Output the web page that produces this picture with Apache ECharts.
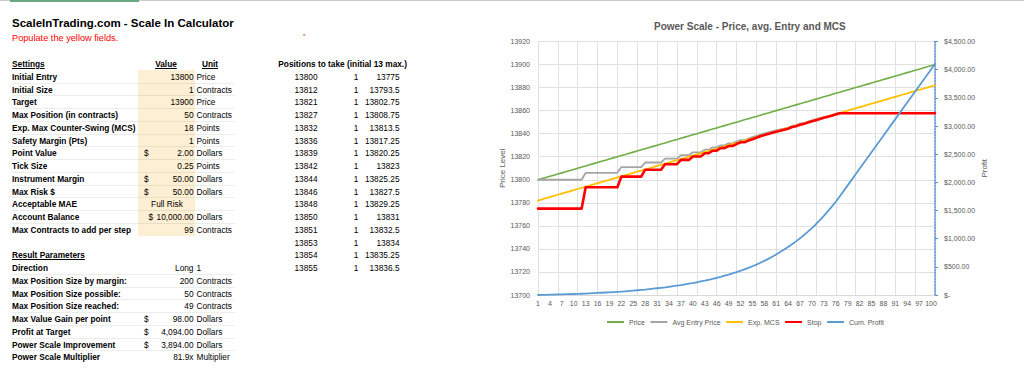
<!DOCTYPE html>
<html>
<head>
<meta charset="utf-8">
<script src="https://cdn.jsdelivr.net/npm/echarts@6/dist/echarts.min.js"></script>
<style>
  html, body { margin: 0; padding: 0; background: #fff; }
  body { width: 1024px; height: 376px; overflow: hidden; position: relative; font-family: "Liberation Sans", Arial, sans-serif; }
  #chart { position: absolute; left: 0; top: 0; width: 1024px; height: 376px; z-index: 1; }
  #sheet { position: absolute; left: 0; top: 0; width: 1024px; height: 376px; z-index: 2; pointer-events: none; }
  .t { position: absolute; height: 12px; line-height: 12px; white-space: nowrap; font-size: 8.3px; color: #000; }
  .b { font-weight: bold; }
  .u { text-decoration: underline; }
</style>
</head>
<body>
<div id="chart"></div>
<div id="sheet"></div>
<script>
// ---------------- Spreadsheet data ----------------
const sheetTitle = 'ScaleInTrading.com - Scale In Calculator';
const sheetNote = 'Populate the yellow fields.';
const settingsHeader = ['Settings', 'Value', 'Unit'];
const settingsLabels = ['Initial Entry', 'Initial Size', 'Target', 'Max Position (in contracts)', 'Exp. Max Counter-Swing (MCS)', 'Safety Margin (Pts)', 'Point Value', 'Tick Size', 'Instrument Margin', 'Max Risk $', 'Acceptable MAE', 'Account Balance', 'Max Contracts to add per step'];
const settingsValues = ['13800', '1', '13900', '50', '18', '1', '2.00', '0.25', '50.00', '50.00', 'Full Risk', '10,000.00', '99'];
const settingsDollar = [false, false, false, false, false, false, true, false, true, true, false, true, false];
const settingsUnits = ['Price', 'Contracts', 'Price', 'Contracts', 'Points', 'Points', 'Dollars', 'Points', 'Dollars', 'Dollars', '', 'Dollars', 'Contracts'];

const resultHeader = 'Result Parameters';
const resultLabels = ['Direction', 'Max Position Size by margin:', 'Max Position Size possible:', 'Max Position Size reached:', 'Max Value Gain per point', 'Profit at Target', 'Power Scale Improvement', 'Power Scale Multiplier'];
const resultValues = ['Long', '200', '50', '49', '98.00', '4,094.00', '3,894.00', '81.9x'];
const resultDollar = [false, false, false, false, true, true, true, false];
const resultUnits = ['1', 'Contracts', 'Contracts', 'Contracts', 'Dollars', 'Dollars', 'Dollars', 'Multiplier'];

const positionsHeader = 'Positions to take (initial 13 max.)';
const positionsPrice = [13800, 13812, 13821, 13827, 13832, 13836, 13839, 13842, 13844, 13846, 13848, 13850, 13851, 13853, 13854, 13855];
const positionsQty = [1, 1, 1, 1, 1, 1, 1, 1, 1, 1, 1, 1, 1, 1, 1, 1];
const positionsStop = [13775, 13793.5, 13802.75, 13808.75, 13813.5, 13817.25, 13820.25, 13823, 13825.25, 13827.5, 13829.25, 13831, 13832.5, 13834, 13835.25, 13836.5];

// ---------------- Chart data ----------------
const chartTitle = 'Power Scale - Price, avg. Entry and MCS';
const categories = [1,2,3,4,5,6,7,8,9,10,11,12,13,14,15,16,17,18,19,20,21,22,23,24,25,26,27,28,29,30,31,32,33,34,35,36,37,38,39,40,41,42,43,44,45,46,47,48,49,50,51,52,53,54,55,56,57,58,59,60,61,62,63,64,65,66,67,68,69,70,71,72,73,74,75,76,77,78,79,80,81,82,83,84,85,86,87,88,89,90,91,92,93,94,95,96,97,98,99,100,101];
const priceSeries = [13800,13801,13802,13803,13804,13805,13806,13807,13808,13809,13810,13811,13812,13813,13814,13815,13816,13817,13818,13819,13820,13821,13822,13823,13824,13825,13826,13827,13828,13829,13830,13831,13832,13833,13834,13835,13836,13837,13838,13839,13840,13841,13842,13843,13844,13845,13846,13847,13848,13849,13850,13851,13852,13853,13854,13855,13856,13857,13858,13859,13860,13861,13862,13863,13864,13865,13866,13867,13868,13869,13870,13871,13872,13873,13874,13875,13876,13877,13878,13879,13880,13881,13882,13883,13884,13885,13886,13887,13888,13889,13890,13891,13892,13893,13894,13895,13896,13897,13898,13899,13900];
const avgEntrySeries = [13800,13800,13800,13800,13800,13800,13800,13800,13800,13800,13800,13800,
  13806,13806,13806,13806,13806,13806,13806,13806,13806,
  13811,13811,13811,13811,13811,13811,
  13815,13815,13815,13815,13815,
  13818.4,13818.4,13818.4,13818.4,
  13821.33,13821.33,13821.33,
  13823.86,13823.86,13823.86,
  13826.13,13826.13,
  13828.11,13828.11,
  13829.9,13829.9,
  13831.55,13831.55,
  13833.08,
  13834.46,13834.46,
  13835.79,13837,13838.13,13839.18,13840.17,13841.11,13842,13842.86,13843.68,13844.48,13845.25,13846.69,13847.37,13848.66,13849.27,13850.44,13851.53,13852.56,13853.53,13854.45,13855.33,13856.18,13857.38,
  13858.14,13858.14,13858.14,13858.14,13858.14,13858.14,13858.14,13858.14,13858.14,13858.14,13858.14,13858.14,13858.14,13858.14,13858.14,13858.14,13858.14,13858.14,13858.14,13858.14,13858.14,13858.14,13858.14,13858.14,13858.14];
const mcsSeries = [13782,13783,13784,13785,13786,13787,13788,13789,13790,13791,13792,13793,13794,13795,13796,13797,13798,13799,13800,13801,13802,13803,13804,13805,13806,13807,13808,13809,13810,13811,13812,13813,13814,13815,13816,13817,13818,13819,13820,13821,13822,13823,13824,13825,13826,13827,13828,13829,13830,13831,13832,13833,13834,13835,13836,13837,13838,13839,13840,13841,13842,13843,13844,13845,13846,13847,13848,13849,13850,13851,13852,13853,13854,13855,13856,13857,13858,13859,13860,13861,13862,13863,13864,13865,13866,13867,13868,13869,13870,13871,13872,13873,13874,13875,13876,13877,13878,13879,13880,13881,13882];
const stopSeries = [13775,13775,13775,13775,13775,13775,13775,13775,13775,13775,13775,13775,
  13793.5,13793.5,13793.5,13793.5,13793.5,13793.5,13793.5,13793.5,13793.5,
  13802.75,13802.75,13802.75,13802.75,13802.75,13802.75,
  13808.75,13808.75,13808.75,13808.75,13808.75,
  13813.5,13813.5,13813.5,13813.5,
  13817.25,13817.25,13817.25,
  13820.25,13820.25,13820.25,
  13823,13823,
  13825.25,13825.25,
  13827.5,13827.5,
  13829.25,13829.25,
  13831,
  13832.5,13832.5,
  13834,13835.25,13836.5,13837.75,13838.75,13839.75,13840.75,13841.75,13842.5,13843.5,13844.25,13845.75,13846.5,13847.75,13848.5,13849.75,13850.75,13851.75,13852.75,13853.75,13854.75,13855.5,13856.75,
  13857.75,13857.75,13857.75,13857.75,13857.75,13857.75,13857.75,13857.75,13857.75,13857.75,13857.75,13857.75,13857.75,13857.75,13857.75,13857.75,13857.75,13857.75,13857.75,13857.75,13857.75,13857.75,13857.75,13857.75,13857.75];
const profitSeries = [0,2,4,6,8,10,12,14,16,18,20,22,
  24,28,32,36,40,44,48,52,56,
  60,66,72,78,84,90,
  96,104,112,120,128,
  136,146,156,166,
  176,188,200,
  212,226,240,
  254,270,286,304,322,342,362,384,406,430,456,482,510,540,572,606,642,680,720,762,806,852,900,952,1006,1064,1124,1188,1256,1328,1404,1484,1568,1656,1750,
  1848,1946,2044,2142,2240,2338,2436,2534,2632,2730,2828,2926,3024,3122,3220,3318,3416,3514,3612,3710,3808,3906,4004,4102];
const rightTickLabels = ['$-', '$500.00', '$1,000.00', '$1,500.00', '$2,000.00', '$2,500.00', '$3,000.00', '$3,500.00', '$4,000.00', '$4,500.00'];
const seriesNames = ['Price', 'Avg Entry Price', 'Exp. MCS', 'Stop', 'Cum. Profit'];

// ---------------- Spreadsheet rendering ----------------
const sheet = document.getElementById('sheet');
const ROW_H = 12.75, Y0 = 64;
function rowY(k) { return Y0 + ROW_H * k; }
function box(x, y, w, h, bg) {
  const d = document.createElement('div');
  d.style.cssText = 'position:absolute;left:' + x + 'px;top:' + y + 'px;width:' + w + 'px;height:' + h + 'px;background:' + bg + ';';
  sheet.appendChild(d);
}
function txt(s, x, y, align, cls, extra) {
  const d = document.createElement('div');
  d.className = 't ' + (cls || '');
  d.textContent = s;
  const w = 300;
  if (align === 'right') { d.style.left = (x - w) + 'px'; d.style.width = w + 'px'; d.style.textAlign = 'right'; }
  else if (align === 'center') { d.style.left = (x - w / 2) + 'px'; d.style.width = w + 'px'; d.style.textAlign = 'center'; }
  else { d.style.left = x + 'px'; }
  d.style.top = (y - 6) + 'px';
  if (extra) Object.assign(d.style, extra);
  sheet.appendChild(d);
}
// top border strip
box(0, 0, 1024, 1, '#c9c9c9');
box(10, 0, 129, 2, '#6aa884');
// yellow input cells
box(138, rowY(1) - ROW_H / 2, 56.5, ROW_H * 13, '#fcefd3');
// row separators
for (let k = 1; k <= 12; k++) box(12, rowY(k) + ROW_H / 2 - 0.5, 223, 1, 'rgba(0,0,0,0.07)');
for (let k = 16; k <= 22; k++) box(12, rowY(k) + ROW_H / 2 - 0.5, 223, 1, 'rgba(0,0,0,0.07)');

txt(sheetTitle, 12, 22.5, 'left', 'b', { fontSize: '11.5px', height: '16px', lineHeight: '16px', top: '14.5px' });
txt(sheetNote, 12, 38, 'left', '', { fontSize: '9.2px', color: '#ff0000' });
txt('*', 303, 36, 'left', '', { fontSize: '6px', color: '#ff0000' });

txt(settingsHeader[0], 12, rowY(0), 'left', 'b u');
txt(settingsHeader[1], 166, rowY(0), 'center', 'b u');
txt(settingsHeader[2], 210, rowY(0), 'center', 'b u');
settingsLabels.forEach((lab, i) => {
  const y = rowY(i + 1);
  txt(lab, 12, y, 'left', 'b');
  const v = settingsValues[i];
  if (v === 'Full Risk') txt(v, 167, y, 'center');
  else txt(v, 193.5, y, 'right');
  if (settingsDollar[i]) txt('$', v.length > 8 ? 148.5 : 144, y, 'left');
  if (settingsUnits[i]) txt(settingsUnits[i], 196.5, y, 'left');
});

txt(resultHeader, 12, rowY(15), 'left', 'b u');
resultLabels.forEach((lab, i) => {
  const y = rowY(16 + i);
  txt(lab, 12, y, 'left', 'b');
  txt(resultValues[i], 193.5, y, 'right');
  if (resultDollar[i]) txt('$', 144, y, 'left');
  txt(resultUnits[i], 196.5, y, 'left');
});

txt(positionsHeader, 278.3, rowY(0), 'left', 'b');
positionsPrice.forEach((p, i) => {
  const y = rowY(i + 1);
  txt(String(p), 317.5, y, 'right');
  txt(String(positionsQty[i]), 356, y, 'center');
  txt(String(positionsStop[i]), 399.5, y, 'right');
});

// ---------------- Chart ----------------
const chart = echarts.init(document.getElementById('chart'), null, { renderer: 'svg', width: 1024, height: 376 });
const gray = '#595959';
const gridColor = '#e0e0e0';
const colors = ['#70ad47', '#a5a5a5', '#ffc000', '#ff0000', '#5b9bd5'];
const widths = [1.6, 1.8, 1.8, 2.6, 1.8];
const seriesData = [priceSeries, avgEntrySeries, mcsSeries, stopSeries, profitSeries];

chart.setOption({
  animation: false,
  color: colors,
  textStyle: { fontFamily: '"Liberation Sans", Arial, sans-serif' },
  title: {
    text: chartTitle, left: 654, top: 20, padding: 0,
    textStyle: { fontSize: 10, fontWeight: 'bold', color: gray, lineHeight: 12 }
  },
  legend: {
    data: seriesNames, left: 607, top: 318.5, padding: 0,
    icon: 'rect', itemWidth: 17, itemHeight: 2, itemGap: 5.5,
    textStyle: { fontSize: 7, color: gray }
  },
  grid: { left: 538, right: 89, top: 41.5, bottom: 81, containLabel: false, outerBoundsMode: 'none' },
  xAxis: {
    type: 'category', data: categories, boundaryGap: false,
    axisLine: { lineStyle: { color: '#d9d9d9' } },
    axisTick: { show: false },
    axisLabel: { interval: 2, fontSize: 7, color: gray, margin: 5 },
    splitLine: { show: true, interval: 4, lineStyle: { color: gridColor, width: 1 } }
  },
  yAxis: [
    {
      type: 'value', min: 13700, max: 13920, interval: 20,
      name: 'Price Level', nameLocation: 'middle', nameGap: 30,
      nameTextStyle: { fontSize: 8, color: gray },
      axisLine: { show: false }, axisTick: { show: false },
      axisLabel: { fontSize: 7, color: gray, margin: 8, formatter: v => String(v) },
      splitLine: { lineStyle: { color: gridColor, width: 1 } }
    },
    {
      type: 'value', position: 'right', min: 0, max: 4500, interval: 500,
      name: 'Profit', nameLocation: 'middle', nameGap: 45,
      nameTextStyle: { fontSize: 8, color: gray },
      axisLine: { show: true, lineStyle: { color: '#5b8fd6', type: 'dotted', width: 1.5 } },
      axisTick: { show: true, length: 3, lineStyle: { color: '#5b8fd6' } },
      axisLabel: { fontSize: 7, color: gray, margin: 9, formatter: v => rightTickLabels[Math.round(v / 500)] },
      splitLine: { show: false }
    }
  ],
  series: seriesNames.map((name, i) => ({
    name: name, type: 'line', data: seriesData[i],
    yAxisIndex: i === 4 ? 1 : 0,
    symbol: 'none', smooth: false,
    lineStyle: { color: colors[i], width: widths[i], join: 'round', cap: 'round' },
    itemStyle: { color: colors[i] }
  }))
});
</script>
</body>
</html>
